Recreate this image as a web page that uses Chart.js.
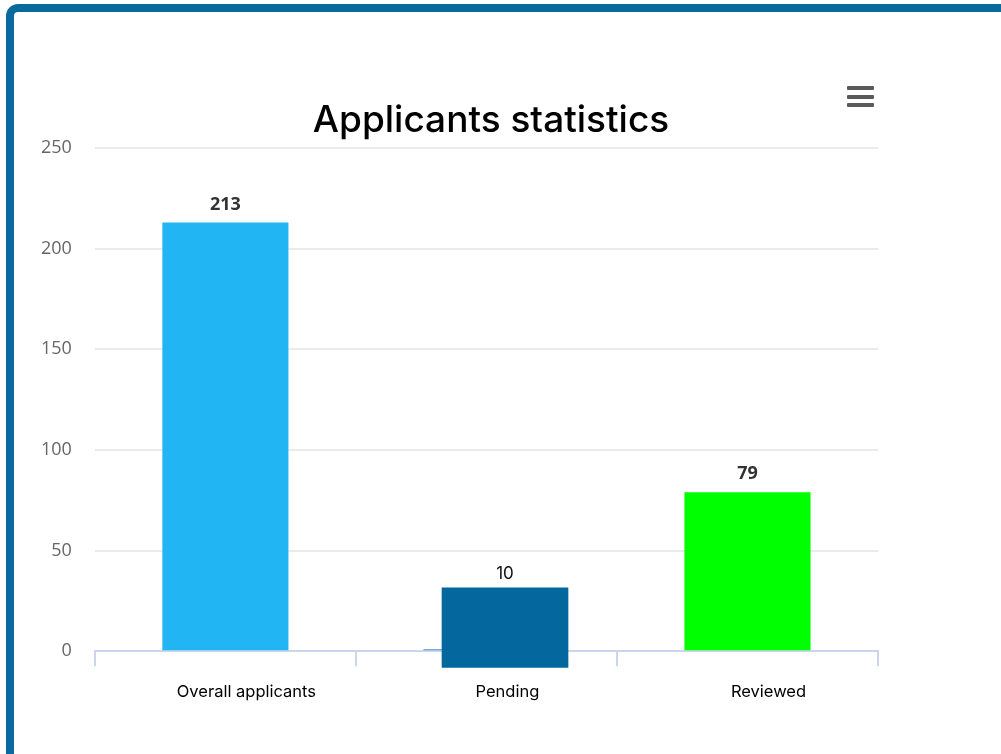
<!DOCTYPE html>
<html>
<head>
<meta charset="utf-8">
<script src="https://cdn.jsdelivr.net/npm/chart.js@4.4.1/dist/chart.umd.min.js"></script>
<style>
    html, body { margin: 0; padding: 0; background: #fff; overflow: hidden; }
    .frame {
        position: absolute; left: 6px; top: 4px; width: 1100px; height: 900px;
        border: 8px solid #0a6a9e; border-radius: 12px; box-sizing: border-box;
    }
    #chart { position: absolute; left: 0; top: 0; }
    .title {
        position: absolute; left: 0; top: 100px; width: 982px; text-align: center;
        font: 500 37px/37px Inter, sans-serif; color: #000;
    }
    .menu { position: absolute; left: 847px; top: 86px; width: 27px; }
    .menu span { display: block; height: 4px; margin-bottom: 4.5px; background: #5a5a5a; border-radius: 1px; }
</style>
</head>
<body>
<div class="frame"></div>
<canvas id="chart" width="1001" height="754"></canvas>
<div class="title">Applicants statistics</div>
<div class="menu"><span></span><span></span><span></span></div>
<script>
const categories = ["Overall applicants", "Pending", "Reviewed"]
const barValues = [213, 1, 79]
const barLabels = ["213", "", "79"]
const pendingBlock = [-8, 31.5]
const pendingLabel = "10"
const yTicks = [0, 50, 100, 150, 200, 250]

// pending block sits a bit right of its category
const pendingShift = 0.083

const valueLabels = {
    id: "valueLabels",
    afterDatasetsDraw(chart) {
        const { ctx } = chart
        chart.data.datasets.forEach((ds, i) => {
            const meta = chart.getDatasetMeta(i)
            meta.data.forEach((bar, j) => {
                const text = ds.valueLabels[j]
                if (!text) return
                ctx.save()
                ctx.font = ds.labelFont
                ctx.fillStyle = ds.labelColor
                ctx.textAlign = "center"
                ctx.textBaseline = "middle"
                ctx.fillText(text, bar.x, bar.y - ds.labelGap)
                ctx.restore()
            })
        })
    },
}

new Chart(document.getElementById("chart"), {
    type: "bar",
    data: {
        labels: categories,
        datasets: [
            {
                data: [{ x: 1, y: pendingBlock }],
                xAxisID: "xShift",
                backgroundColor: "#04679e",
                barThickness: 126,
                grouped: false,
                clip: false,
                order: 0,
                valueLabels: [pendingLabel],
                labelFont: "400 17px Inter",
                labelColor: "#111",
                labelGap: 14,
            },
            {
                data: barValues,
                backgroundColor: ["#22b5f3", "#4a8fe0", "#00ff00"],
                barPercentage: 0.483,
                categoryPercentage: 1,
                grouped: false,
                order: 1,
                valueLabels: barLabels,
                labelFont: "700 18px 'Open Sans'",
                labelColor: "#333",
                labelGap: 18,
            },
        ],
    },
    options: {
        responsive: false,
        animation: false,
        devicePixelRatio: 1,
        layout: { padding: { left: 18, right: 123, top: 148, bottom: 36 } },
        plugins: {
            legend: { display: false },
            tooltip: { enabled: false },
        },
        scales: {
            x: {
                grid: {
                    drawOnChartArea: false,
                    color: "#ccd6eb",
                    lineWidth: 2,
                    tickLength: 15,
                },
                border: { color: "#ccd6eb", width: 2 },
                ticks: {
                    color: "#000",
                    font: { family: "Inter", size: 16.5 },
                    padding: 16,
                    labelOffset: 21,
                },
            },
            xShift: {
                type: "linear",
                display: false,
                min: -0.5 - pendingShift,
                max: 2.5 - pendingShift,
            },
            y: {
                min: 0,
                max: 250,
                afterBuildTicks: scale => {
                    scale.ticks = yTicks.map(value => ({ value }))
                },
                grid: { color: "#ebebeb", lineWidth: 2, drawTicks: false },
                border: { display: false },
                ticks: {
                    color: "#666",
                    font: { family: "'Open Sans'", size: 18 },
                    padding: 23,
                },
            },
        },
    },
    plugins: [valueLabels],
})
</script>
</body>
</html>
